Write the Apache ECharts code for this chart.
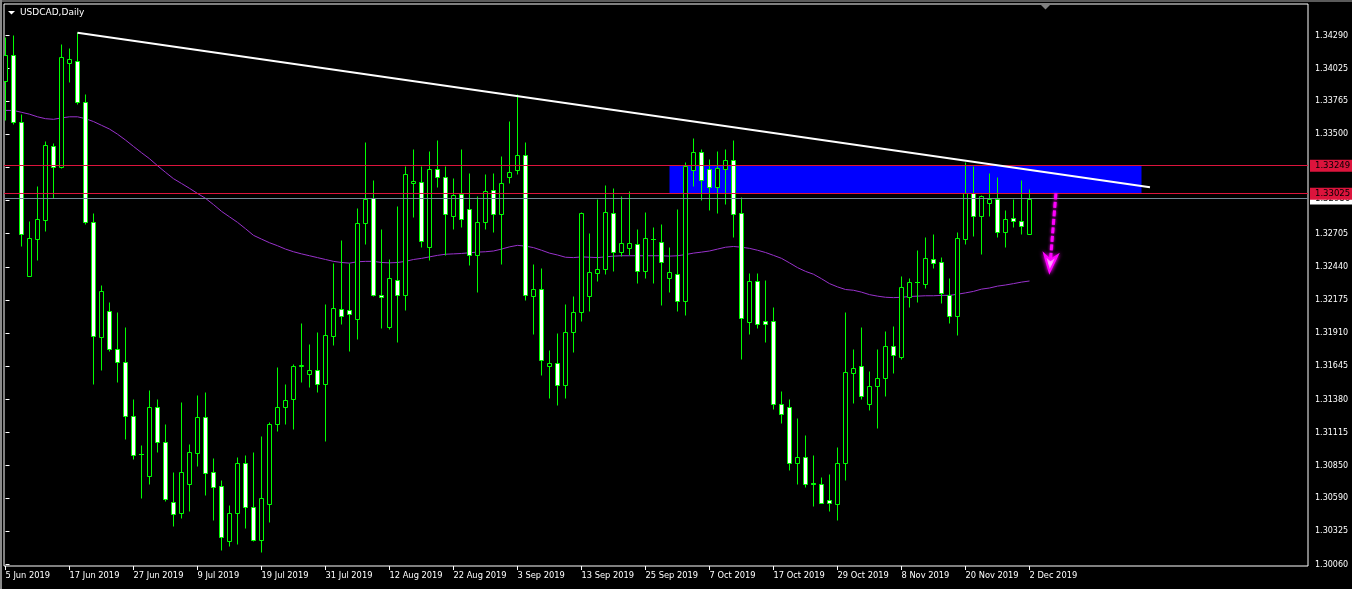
<!DOCTYPE html>
<html><head><meta charset="utf-8">
<script src="https://cdn.jsdelivr.net/npm/echarts@6/dist/echarts.min.js"></script>
<style>html,body{margin:0;padding:0;background:#000;}#c{width:1352px;height:589px;}</style>
</head><body><div id="c"></div>
<script>
// ---- data ----
const xLabels = ['5 Jun 2019','17 Jun 2019','27 Jun 2019','9 Jul 2019','19 Jul 2019','31 Jul 2019','12 Aug 2019','22 Aug 2019','3 Sep 2019','13 Sep 2019','25 Sep 2019','7 Oct 2019','17 Oct 2019','29 Oct 2019','8 Nov 2019','20 Nov 2019','2 Dec 2019'];
const xLabelStep = 8; // bars between date labels
const yTicks = [1.30060,1.30325,1.30590,1.30850,1.31115,1.31380,1.31645,1.31910,1.32175,1.32440,1.32705,1.32970,1.33240,1.33500,1.33765,1.34025,1.34290];

const opens = [1.33922,1.34129,1.33596,1.32366,1.32662,1.32807,1.33400,1.33234,1.34064,1.34085,
1.33753,1.32793,1.31877,1.32087,1.31782,1.31678,1.31245,1.30937,1.30762,1.31319,
1.31038,1.30558,1.30469,1.30700,1.30949,1.31236,1.30795,1.30685,1.30246,1.30469,
1.30869,1.30519,1.30252,1.30537,1.31180,1.31319,1.31382,1.31640,1.31580,1.31610,
1.31500,1.31886,1.32099,1.32090,1.32019,1.32784,1.32988,1.32215,1.31957,1.32333,
1.32212,1.33110,1.33113,1.32594,1.33216,1.33151,1.32840,1.33021,1.32896,1.32529,
1.32793,1.33047,1.32855,1.33151,1.33210,1.33329,1.32203,1.32262,1.31645,1.31669,
1.31491,1.31915,1.32078,1.32203,1.32389,1.32416,1.32864,1.32558,1.32588,1.32618,
1.32404,1.32659,1.32638,1.32345,1.32381,1.32164,1.33208,1.33353,1.33216,1.33071,
1.33222,1.33288,1.32864,1.31995,1.32321,1.32001,1.32001,1.31343,1.31319,1.30869,
1.30919,1.30706,1.30697,1.30573,1.30537,1.30869,1.31589,1.31640,1.31343,1.31485,
1.31551,1.31803,1.31714,1.32194,1.32312,1.32301,1.32499,1.32475,1.32212,1.32046,
1.32662,1.33027,1.32840,1.32944,1.32982,1.32713,1.32825,1.32801,1.32701];

const highs = [1.34278,1.34292,1.33655,1.32801,1.33083,1.33445,1.33430,1.34218,1.34189,1.34313,
1.33818,1.32864,1.32292,1.32158,1.32075,1.31954,1.31376,1.31008,1.31450,1.31376,
1.31183,1.30795,1.31358,1.31023,1.31408,1.31432,1.30904,1.30735,1.30528,1.30913,
1.30928,1.30952,1.31085,1.31195,1.31634,1.31497,1.31663,1.31986,1.31817,1.31912,
1.32138,1.32464,1.32647,1.32470,1.32908,1.33436,1.33130,1.32739,1.32499,1.32923,
1.33240,1.33379,1.33240,1.33365,1.33454,1.33240,1.33148,1.33379,1.33187,1.33003,
1.33181,1.33187,1.33323,1.33605,1.33818,1.33436,1.32458,1.32425,1.31770,1.31906,
1.32143,1.32203,1.32876,1.32707,1.32982,1.33092,1.33068,1.33003,1.33042,1.32736,
1.32873,1.32754,1.32775,1.32594,1.32899,1.33276,1.33468,1.33379,1.33299,1.33365,
1.33379,1.33454,1.32994,1.32387,1.32387,1.32330,1.32114,1.31447,1.31379,1.31225,
1.31088,1.30928,1.30759,1.30780,1.30999,1.32078,1.31776,1.31954,1.31601,1.31776,
1.31921,1.31963,1.32366,1.32345,1.32570,1.32674,1.32698,1.32514,1.32345,1.32716,
1.33276,1.33240,1.33012,1.33184,1.33151,1.32890,1.32982,1.33130,1.33059];

const lows = [1.33611,1.33581,1.32603,1.32366,1.32490,1.32724,1.32988,1.33225,1.33916,1.33738,
1.32781,1.31500,1.31610,1.31764,1.31515,1.31056,1.30899,1.30587,1.30700,1.30958,
1.30567,1.30365,1.30430,1.30484,1.30845,1.30611,1.30409,1.30172,1.30202,1.30217,
1.30350,1.30241,1.30158,1.30395,1.31121,1.31180,1.31136,1.31515,1.31477,1.31432,
1.31047,1.31812,1.31980,1.31764,1.31862,1.32618,1.32203,1.31948,1.31942,1.31838,
1.32093,1.32837,1.32597,1.32490,1.33071,1.32529,1.32742,1.32757,1.32449,1.32238,
1.32742,1.32716,1.32455,1.33104,1.33181,1.32173,1.31897,1.31571,1.31388,1.31334,
1.31388,1.31755,1.32004,1.32084,1.32321,1.32375,1.32401,1.32523,1.32529,1.32306,
1.32345,1.32306,1.32129,1.32232,1.32084,1.32049,1.33086,1.32970,1.32890,1.32870,
1.32938,1.32677,1.31699,1.31897,1.31948,1.31838,1.31299,1.31186,1.30810,1.30700,
1.30673,1.30525,1.30549,1.30484,1.30409,1.30730,1.31349,1.31379,1.31293,1.31145,
1.31402,1.31589,1.31699,1.32114,1.32158,1.32268,1.32428,1.32149,1.31989,1.31892,
1.32615,1.32686,1.32535,1.32840,1.32677,1.32594,1.32751,1.32701,1.32701];

const closes = [1.34129,1.33596,1.32698,1.32665,1.32816,1.33409,1.33234,1.34115,1.34100,1.33753,
1.32793,1.31886,1.32241,1.31782,1.31675,1.31245,1.30934,1.30940,1.31319,1.31038,
1.30578,1.30460,1.30795,1.30952,1.31239,1.30789,1.30676,1.30276,1.30469,1.30869,
1.30519,1.30252,1.30587,1.31180,1.31319,1.31373,1.31640,1.31648,1.31610,1.31500,
1.31889,1.32105,1.32040,1.32060,1.32784,1.32982,1.32212,1.32197,1.32345,1.32209,
1.33178,1.33122,1.32641,1.33216,1.33151,1.32858,1.33009,1.32816,1.32529,1.32793,
1.33042,1.32855,1.33107,1.33196,1.33329,1.32212,1.32262,1.31693,1.31669,1.31491,
1.31918,1.32072,1.32864,1.32392,1.32416,1.32873,1.32558,1.32624,1.32624,1.32404,
1.32665,1.32662,1.32478,1.32392,1.32164,1.33240,1.33353,1.33128,1.33071,1.33225,
1.33288,1.32855,1.32025,1.32321,1.31983,1.31980,1.31343,1.31263,1.30869,1.30919,
1.30700,1.30703,1.30549,1.30549,1.30869,1.31592,1.31631,1.31402,1.31482,1.31551,
1.31803,1.31734,1.32274,1.32315,1.32315,1.32508,1.32470,1.32224,1.32046,1.32668,
1.33027,1.32840,1.33000,1.32982,1.32713,1.32816,1.32801,1.32760,1.32982];

const maValues = [1.33691,1.33691,1.33676,1.33661,1.33640,1.33625,1.33620,1.33631,1.33640,1.33640,
1.33625,1.33602,1.33572,1.33542,1.33501,1.33454,1.33403,1.33353,1.33305,1.33249,
1.33196,1.33145,1.33107,1.33068,1.33027,1.32988,1.32938,1.32884,1.32840,1.32796,
1.32745,1.32692,1.32662,1.32633,1.32609,1.32582,1.32561,1.32544,1.32529,1.32514,
1.32499,1.32484,1.32475,1.32470,1.32481,1.32484,1.32484,1.32475,1.32472,1.32475,
1.32484,1.32499,1.32508,1.32520,1.32532,1.32541,1.32544,1.32547,1.32553,1.32558,
1.32561,1.32567,1.32582,1.32600,1.32612,1.32606,1.32594,1.32573,1.32550,1.32535,
1.32517,1.32514,1.32520,1.32517,1.32514,1.32520,1.32526,1.32529,1.32529,1.32529,
1.32529,1.32529,1.32529,1.32526,1.32529,1.32538,1.32550,1.32558,1.32567,1.32582,
1.32597,1.32603,1.32597,1.32588,1.32573,1.32555,1.32532,1.32508,1.32472,1.32434,
1.32404,1.32381,1.32345,1.32306,1.32280,1.32259,1.32253,1.32238,1.32218,1.32206,
1.32197,1.32194,1.32197,1.32203,1.32206,1.32209,1.32209,1.32212,1.32212,1.32221,
1.32232,1.32244,1.32262,1.32271,1.32286,1.32295,1.32306,1.32318,1.32327];

const trendBars = [9, 143.06];
const trendPrices = [1.34313, 1.33077];
const zoneBars = [83, 142];
const zonePrices = [1.33249, 1.33025];
const levelPrices = [1.33249, 1.33025];
const bidPrice = 1.32986;
const arrowBars = [131.3, 130.5];
const arrowPrices = [1.33027, 1.32400];
const xRange = [-0.1875, 162.8125];
const yRange = [1.30048, 1.34542];

// ---- chart ----
const FONT = '"DejaVu Sans", Verdana, sans-serif';
const xTickIdx = xLabels.map((_, k) => k * xLabelStep);
const candleData = opens.map((o, i) => [i, o, highs[i], lows[i], closes[i]]);
const snap = v => Math.round(v - 0.5) + 0.5;

function renderCandle(params, api) {
  const i = api.value(0), o = api.value(1), h = api.value(2), l = api.value(3), c = api.value(4);
  const x = snap(api.coord([i, o])[0]);
  const yo = api.coord([i, o])[1], yc = api.coord([i, c])[1];
  const yh = snap(api.coord([i, h])[1]), yl = snap(api.coord([i, l])[1]);
  const top = snap(Math.min(yo, yc)), bot = snap(Math.max(yo, yc));
  const children = [{type: 'line', shape: {x1: x, y1: yh, x2: x, y2: yl}, style: {stroke: '#00ff00', lineWidth: 1}}];
  if (bot - top >= 1) {
    children.push({type: 'rect', shape: {x: x - 2, y: top, width: 4, height: bot - top},
      style: {fill: c < o ? '#ffffff' : '#000000', stroke: '#00ff00', lineWidth: 1}});
  } else {
    children.push({type: 'line', shape: {x1: x - 2.5, y1: top, x2: x + 2.5, y2: top}, style: {stroke: '#00ff00', lineWidth: 1}});
  }
  return {type: 'group', children};
}

function renderZone(params, api) {
  const p1 = api.coord([api.value(0), api.value(2)]);
  const p2 = api.coord([api.value(1), api.value(3)]);
  return {type: 'rect', shape: {x: p1[0], y: p1[1], width: p2[0] - p1[0], height: p2[1] - p1[1]}, style: {fill: '#0000ff'}};
}

function renderArrow(params, api) {
  const p1 = api.coord([api.value(0), api.value(2)]);
  const p2 = api.coord([api.value(1), api.value(3)]);
  const dx = p2[0] - p1[0], dy = p2[1] - p1[1], len = Math.hypot(dx, dy);
  const ux = dx / len, uy = dy / len, px = -uy, py = ux;
  const headLen = 17, headW = 6.5;
  const base = [p2[0] - ux * headLen, p2[1] - uy * headLen];
  const notch = [p2[0] - ux * (headLen - 5), p2[1] - uy * (headLen - 5)];
  return {type: 'group', children: [
    {type: 'line', shape: {x1: p1[0], y1: p1[1], x2: notch[0], y2: notch[1]},
      style: {stroke: '#ff00ff', lineWidth: 3, lineDash: [6, 2.5], shadowBlur: 3, shadowColor: '#ff00ff'}},
    {type: 'polygon', shape: {points: [[p2[0], p2[1]], [base[0] + px * headW, base[1] + py * headW], notch, [base[0] - px * headW, base[1] - py * headW]]},
      style: {fill: '#ffffff', stroke: '#ff00ff', lineWidth: 2, shadowBlur: 4, shadowColor: '#ff00ff'}}
  ]};
}

const lineLabel = (bg, fg) => ({
  show: true, position: 'end', distance: 2, formatter: p => Number(p.value).toFixed(5),
  backgroundColor: bg, color: fg, fontSize: 8.5, fontFamily: FONT, padding: [2, 8, 1, 5]
});

const option = {
  backgroundColor: '#000000',
  animation: false,
  title: {text: 'USDCAD,Daily', left: 20, top: 8, padding: 0, textStyle: {color: '#ffffff', fontSize: 9, fontWeight: 'normal', fontFamily: FONT}},
  grid: {left: 4, right: 44, top: 4, bottom: 23, show: true, borderColor: '#ffffff', borderWidth: 1, backgroundColor: '#000000'},
  xAxis: {
    type: 'value', min: xRange[0], max: xRange[1],
    splitLine: {show: false}, axisLine: {show: false},
    axisTick: {show: true, length: 4, lineStyle: {color: '#ffffff'}, customValues: xTickIdx},
    axisLabel: {customValues: xTickIdx, formatter: v => xLabels[Math.round(v / xLabelStep)],
      color: '#ffffff', fontSize: 8.3, fontFamily: FONT, align: 'left', margin: 6}
  },
  yAxis: {
    type: 'value', position: 'right', min: yRange[0], max: yRange[1],
    splitLine: {show: false}, axisLine: {show: false},
    axisTick: {show: true, length: 4, lineStyle: {color: '#ffffff'}, customValues: yTicks},
    axisLabel: {customValues: yTicks, formatter: v => v.toFixed(5), color: '#ffffff', fontSize: 8, fontFamily: FONT, margin: 7}
  },
  series: [
    {type: 'custom', name: 'zone', renderItem: renderZone, clip: true, z: 1, silent: true,
      data: [[zoneBars[0], zoneBars[1], zonePrices[0], zonePrices[1]]], encode: {x: [0, 1], y: [2, 3]}},
    {type: 'line', name: 'MA', data: maValues.map((v, i) => [i, v]), showSymbol: false, z: 2, silent: true,
      lineStyle: {color: '#9932CC', width: 1}},
    {type: 'custom', name: 'USDCAD', renderItem: renderCandle, clip: true, z: 3, silent: true,
      data: candleData, encode: {x: 0, y: [1, 2, 3, 4]}},
    {type: 'line', name: 'levels', data: [[0, bidPrice]], showSymbol: false, z: 4, silent: true,
      lineStyle: {opacity: 0},
      markLine: {silent: true, symbol: 'none', animation: false, precision: 5,
        data: [
          {yAxis: bidPrice, lineStyle: {color: '#778899', width: 1, type: 'solid'}, label: lineLabel('#ffffff', '#000000')},
          {yAxis: levelPrices[0], lineStyle: {color: '#DC143C', width: 1, type: 'solid'}, label: lineLabel('#DC143C', '#000000')},
          {yAxis: levelPrices[1], lineStyle: {color: '#DC143C', width: 1, type: 'solid'}, label: lineLabel('#DC143C', '#000000')}
        ]}},
    {type: 'line', name: 'trend', data: trendBars.map((b, k) => [b, trendPrices[k]]), showSymbol: false, z: 5, silent: true,
      lineStyle: {color: '#ffffff', width: 2}},
    {type: 'custom', name: 'arrow', renderItem: renderArrow, clip: false, z: 6, silent: true,
      data: [[arrowBars[0], arrowBars[1], arrowPrices[0], arrowPrices[1]]], encode: {x: [0, 1], y: [2, 3]}}
  ],
  graphic: [
    {type: 'rect', shape: {x: 0, y: 0, width: 1352, height: 2}, style: {fill: '#5a5a5a'}, silent: true},
    {type: 'rect', shape: {x: 0, y: 0, width: 2, height: 589}, style: {fill: '#8a8a8a'}, silent: true},
    {type: 'polygon', shape: {points: [[8, 11], [15, 11], [11.5, 14.5]]}, style: {fill: '#ffffff'}, silent: true},
    {type: 'polygon', shape: {points: [[1041, 5], [1050, 5], [1045.5, 9.5]]}, style: {fill: '#808080'}, silent: true}
  ]
};

const chart = echarts.init(document.getElementById('c'), null, {renderer: 'canvas'});
chart.setOption(option);
</script>
</body></html>
